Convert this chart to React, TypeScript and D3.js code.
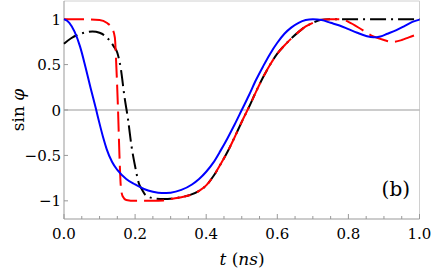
import React, { useRef, useEffect } from 'react';
import * as d3 from 'd3';

// time (ns)
const blueT = [0, 0.015, 0.03, 0.045, 0.06, 0.075, 0.09, 0.1, 0.11, 0.12, 0.135, 0.15, 0.175, 0.2, 0.225, 0.25, 0.275, 0.3, 0.33, 0.36, 0.38, 0.4, 0.42, 0.44, 0.46, 0.48, 0.5, 0.52, 0.54, 0.56, 0.58, 0.6, 0.62, 0.64, 0.66, 0.68, 0.7, 0.725, 0.75, 0.775, 0.8, 0.825, 0.85, 0.87, 0.89, 0.91, 0.935, 0.96, 0.98, 1.0];
const blueV = [1.0, 0.96, 0.86, 0.7, 0.48, 0.24, 0.01, -0.15, -0.3, -0.43, -0.57, -0.66, -0.76, -0.82, -0.87, -0.9, -0.915, -0.91, -0.88, -0.82, -0.76, -0.68, -0.58, -0.45, -0.31, -0.16, 0.0, 0.16, 0.33, 0.48, 0.62, 0.74, 0.84, 0.91, 0.96, 0.99, 1.0, 0.99, 0.96, 0.93, 0.89, 0.85, 0.815, 0.80, 0.81, 0.84, 0.88, 0.93, 0.97, 0.995];

const redT = [0, 0.05, 0.1, 0.12, 0.135, 0.143, 0.147, 0.152, 0.156, 0.16, 0.165, 0.175, 0.2, 0.25, 0.28, 0.3, 0.33, 0.36, 0.38, 0.4, 0.42, 0.44, 0.46, 0.48, 0.5, 0.52, 0.54, 0.56, 0.58, 0.6, 0.62, 0.64, 0.66, 0.68, 0.7, 0.72, 0.75, 0.78, 0.8, 0.84, 0.87, 0.9, 0.925, 0.95, 0.97, 1.0];
const redV = [1.0, 1.0, 0.99, 0.96, 0.9, 0.8, 0.5, 0.0, -0.5, -0.85, -0.95, -0.99, -1.0, -1.0, -0.995, -0.98, -0.96, -0.93, -0.89, -0.83, -0.73, -0.6, -0.46, -0.3, -0.13, 0.03, 0.2, 0.36, 0.5, 0.62, 0.71, 0.79, 0.86, 0.92, 0.96, 0.99, 1.0, 1.0, 0.97, 0.88, 0.81, 0.77, 0.75, 0.77, 0.8, 0.84];

const blackT = [0, 0.02, 0.04, 0.06, 0.08, 0.1, 0.12, 0.14, 0.15, 0.16, 0.17, 0.18, 0.19, 0.2, 0.21, 0.22, 0.23, 0.25, 0.28, 0.32, 0.355, 0.38, 0.4, 0.42, 0.44, 0.46, 0.48, 0.5, 0.52, 0.54, 0.56, 0.58, 0.6, 0.62, 0.64, 0.66, 0.68, 0.7, 0.72, 0.75, 0.85, 1.0];
const blackV = [0.73, 0.79, 0.83, 0.855, 0.865, 0.85, 0.8, 0.7, 0.63, 0.45, 0.15, -0.1, -0.4, -0.62, -0.8, -0.88, -0.94, -0.97, -0.98, -0.965, -0.935, -0.89, -0.83, -0.73, -0.6, -0.46, -0.3, -0.13, 0.03, 0.2, 0.36, 0.5, 0.62, 0.71, 0.79, 0.86, 0.92, 0.96, 0.99, 1.0, 1.0, 1.0];

const xTicks = [0, 0.2, 0.4, 0.6, 0.8, 1.0];
const xTickLabels = ['0.0', '0.2', '0.4', '0.6', '0.8', '1.0'];
const yTicks = [-1, -0.5, 0, 0.5, 1];
const yTickLabels = ['\u22121', '\u22120.5', '0', '0.5', '1'];

const App = () => {
  const svgRef = useRef(null);

  useEffect(() => {
    const svg = d3.select(svgRef.current);
    svg.selectAll('*').remove();

    const width = 432;
    const height = 271;
    const left = 64, right = 419.5, top = 1, bottom = 219;
    const font = 'DejaVu Serif';

    svg.attr('width', width).attr('height', height);

    const x = d3.scaleLinear().domain([0, 1]).range([left, right]);
    const y = d3.scaleLinear().domain([-1.2, 1.2]).range([bottom, top]);

    // frame
    svg.append('line').attr('x1', left).attr('x2', right).attr('y1', top).attr('y2', top)
      .attr('stroke', '#d0d0d0').attr('stroke-width', 1);
    svg.append('line').attr('x1', right).attr('x2', right).attr('y1', top).attr('y2', bottom)
      .attr('stroke', '#d0d0d0').attr('stroke-width', 1);

    // zero line
    svg.append('line').attr('x1', left).attr('x2', right).attr('y1', y(0)).attr('y2', y(0))
      .attr('stroke', '#999').attr('stroke-width', 1);

    // bottom axis
    const gx = svg.append('g');
    gx.append('line').attr('x1', left).attr('x2', right).attr('y1', bottom).attr('y2', bottom)
      .attr('stroke', '#999');
    const minorX = d3.range(0, 1.0001, 0.05);
    gx.selectAll('line.minor').data(minorX).join('line').attr('class', 'minor')
      .attr('x1', d => x(d)).attr('x2', d => x(d))
      .attr('y1', bottom).attr('y2', d => bottom - (Math.abs(d * 5 - Math.round(d * 5)) < 1e-6 ? 5 : 3))
      .attr('stroke', '#999');
    gx.selectAll('text').data(xTicks).join('text')
      .attr('x', d => x(d)).attr('y', 239)
      .attr('text-anchor', 'middle').attr('font-family', font).attr('font-size', 15)
      .text((d, i) => xTickLabels[i]);

    // left axis
    const gy = svg.append('g');
    gy.append('line').attr('x1', left).attr('x2', left).attr('y1', top).attr('y2', bottom)
      .attr('stroke', '#999');
    gy.selectAll('line.tick').data(yTicks).join('line').attr('class', 'tick')
      .attr('x1', left).attr('x2', left + 4)
      .attr('y1', d => y(d)).attr('y2', d => y(d))
      .attr('stroke', '#999');
    gy.selectAll('text').data(yTicks).join('text')
      .attr('x', 61).attr('y', d => y(d) + 5.5)
      .attr('text-anchor', 'end').attr('font-family', font).attr('font-size', 15)
      .text((d, i) => yTickLabels[i]);

    const line = d3.line<number>()
      .x(d => x(d))
      .curve(d3.curveMonotoneX);

    const drawCurve = (ts, vs, color, dash) => {
      svg.append('path')
        .attr('d', line.y((d, i) => y(vs[i]))(ts))
        .attr('fill', 'none')
        .attr('stroke', color)
        .attr('stroke-width', 2)
        .attr('stroke-dasharray', dash);
    };

    drawCurve(blackT, blackV, '#000', '16,5,2,5');
    drawCurve(redT, redV, '#ff0000', '20,7');
    drawCurve(blueT, blueV, '#0000ff', null);

    // labels
    svg.append('text')
      .attr('x', 242).attr('y', 265)
      .attr('text-anchor', 'middle').attr('font-family', font).attr('font-size', 17)
      .html('<tspan font-style="italic">t</tspan> (<tspan font-style="italic">ns</tspan>)');

    svg.append('text')
      .attr('transform', 'translate(24,110) rotate(-90)')
      .attr('text-anchor', 'middle').attr('font-family', font).attr('font-size', 17)
      .html('sin <tspan font-style="italic">φ</tspan>');

    svg.append('text')
      .attr('x', 410).attr('y', 196)
      .attr('text-anchor', 'end').attr('font-family', font).attr('font-size', 20)
      .text('(b)');
  }, []);

  return <svg ref={svgRef} style={{ position: 'absolute', left: 0, top: 0 }}></svg>;
};

export default App;
